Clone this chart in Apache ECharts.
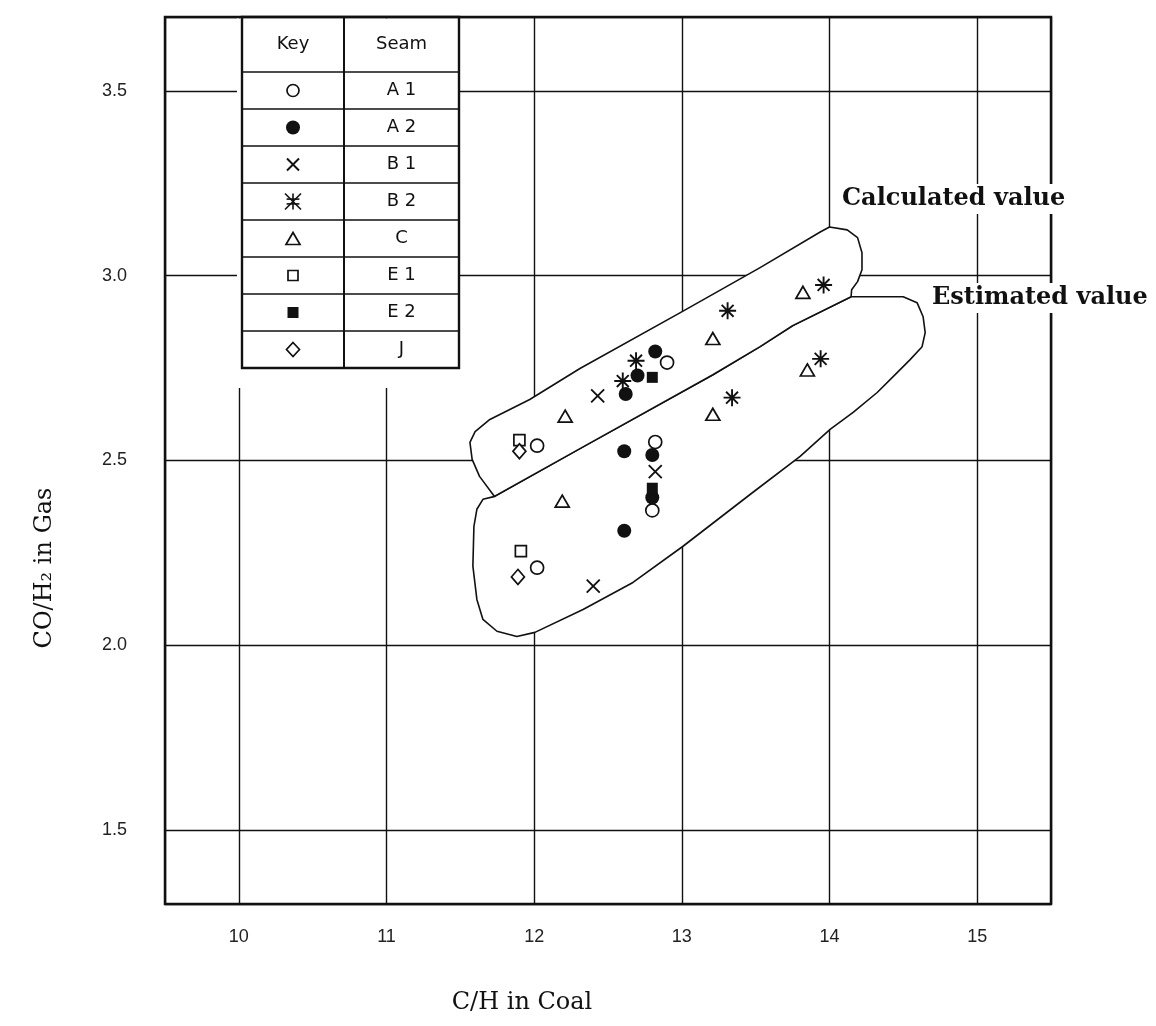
<!DOCTYPE html>
<html>
<head>
<meta charset="utf-8">
<title>CO/H2 in Gas vs C/H in Coal</title>
<style>
  html, body { margin: 0; padding: 0; background: #fff; }
  #chart { width: 1156px; height: 1026px; }
</style>
<script src="https://cdn.jsdelivr.net/npm/echarts@6/dist/echarts.min.js"></script>
</head>
<body>
<div id="chart"></div>
<script>
// ---- Seams listed in the key ----
const seamNames = ['A 1', 'A 2', 'B 1', 'B 2', 'C', 'E 1', 'E 2', 'J'];

// ---- Measurements: C/H in coal (x) and CO/H2 in gas (y) per seam ----
const a1X = [12.02, 12.90, 12.82, 12.80, 12.02];
const a1Y = [2.54, 2.765, 2.55, 2.365, 2.21];
const a2X = [12.62, 12.70, 12.82, 12.61, 12.80, 12.80, 12.61];
const a2Y = [2.68, 2.73, 2.795, 2.525, 2.515, 2.40, 2.31];
const b1X = [12.43, 12.82, 12.40];
const b1Y = [2.675, 2.47, 2.16];
const b2X = [12.60, 12.69, 13.31, 13.96, 13.34, 13.94];
const b2Y = [2.715, 2.77, 2.905, 2.975, 2.67, 2.775];
const cX = [12.21, 13.21, 13.82, 12.19, 13.21, 13.85];
const cY = [2.62, 2.83, 2.955, 2.39, 2.625, 2.745];
const e1X = [11.90, 11.91];
const e1Y = [2.555, 2.255];
const e2X = [12.80, 12.80];
const e2Y = [2.725, 2.425];
const jX = [11.90, 11.89];
const jY = [2.525, 2.185];

// ---- Outline of the "calculated value" band (data units) ----
const calcBandX = [11.565, 11.60, 11.70, 11.97, 12.31, 12.99, 13.53, 13.94, 14.00, 14.12, 14.19, 14.22, 14.22, 14.19, 14.15, 14.146, 13.75, 13.53, 13.21, 12.31, 11.73, 11.63, 11.58];
const calcBandY = [2.549, 2.578, 2.611, 2.665, 2.749, 2.900, 3.022, 3.119, 3.132, 3.124, 3.103, 3.062, 3.016, 2.984, 2.962, 2.943, 2.865, 2.808, 2.732, 2.532, 2.403, 2.457, 2.503];

// ---- Outline of the "estimated value" band (data units) ----
const estBandX = [11.734, 11.653, 11.612, 11.592, 11.585, 11.612, 11.653, 11.748, 11.883, 12.005, 12.331, 12.669, 13.008, 13.462, 13.801, 14.004, 14.160, 14.323, 14.431, 14.546, 14.627, 14.648, 14.634, 14.593, 14.499, 14.207, 14.146, 13.753, 13.530, 13.211, 12.310];
const estBandY = [2.403, 2.395, 2.368, 2.322, 2.214, 2.124, 2.070, 2.038, 2.024, 2.035, 2.097, 2.170, 2.268, 2.408, 2.511, 2.584, 2.630, 2.684, 2.727, 2.773, 2.808, 2.846, 2.889, 2.927, 2.943, 2.943, 2.943, 2.865, 2.808, 2.732, 2.532];

// ---- Tick labels ----
const xTickValues = [10, 11, 12, 13, 14, 15];
const xTickLabels = ['10', '11', '12', '13', '14', '15'];
const yTickValues = [1.5, 2.0, 2.5, 3.0, 3.5];
const yTickLabels = ['1.5', '2.0', '2.5', '3.0', '3.5'];

// ---- Band captions ----
const bandCaptions = ['Calculated value', 'Estimated value'];

const zip = (xs, ys) => xs.map((x, i) => [x, ys[i]]);
const bands = [
  { x: estBandX, y: estBandY },
  { x: calcBandX, y: calcBandY }
];

const INK = '#111';
const PATH_X = 'path://M0,0L10,10M10,0L0,10';
const PATH_STAR = 'path://M5,0L5,10M0,5L10,5M1.5,1.5L8.5,8.5M1.5,8.5L8.5,1.5';

// Marker style for each seam
const seamStyles = [
  { symbol: 'circle', size: 13, fill: '#fff', lw: 1.7 },
  { symbol: 'circle', size: 14, fill: INK, lw: 0 },
  { symbol: PATH_X, size: 13, fill: 'rgba(0,0,0,0)', lw: 1.9 },
  { symbol: PATH_STAR, size: 17, fill: 'rgba(0,0,0,0)', lw: 1.9 },
  { symbol: 'triangle', size: [14, 12], fill: '#fff', lw: 1.7 },
  { symbol: 'rect', size: 11, fill: '#fff', lw: 1.7 },
  { symbol: 'rect', size: 11, fill: INK, lw: 0 },
  { symbol: 'diamond', size: [13, 15], fill: '#fff', lw: 1.7 }
];
const seamData = [
  zip(a1X, a1Y), zip(a2X, a2Y), zip(b1X, b1Y), zip(b2X, b2Y),
  zip(cX, cY), zip(e1X, e1Y), zip(e2X, e2Y), zip(jX, jY)
];

const scatterSeries = seamNames.map((name, i) => ({
  name: name,
  type: 'scatter',
  z: 5,
  silent: true,
  symbol: seamStyles[i].symbol,
  symbolSize: seamStyles[i].size,
  itemStyle: {
    color: seamStyles[i].fill,
    borderColor: INK,
    borderWidth: seamStyles[i].lw,
    opacity: 1
  },
  data: seamData[i]
}));

const bandSeries = {
  type: 'custom',
  coordinateSystem: 'cartesian2d',
  silent: true,
  clip: false,
  z: 3,
  data: bands.map(b => [b.x[0], b.y[0]]),
  renderItem: function (params, api) {
    const b = bands[params.dataIndex];
    const pts = b.x.map((x, k) => api.coord([x, b.y[k]]));
    return {
      type: 'polygon',
      shape: { points: pts },
      style: { fill: '#fff', stroke: INK, lineWidth: 1.6, lineJoin: 'round' }
    };
  }
};

// ---- Key table (drawn in the upper-left corner of the plot) ----
const tbl = { left: 242, mid: 344, right: 459, top: 17, head: 72, row: 37 };
const keyFont = '18px "DejaVu Sans", sans-serif';
const keyElements = [];
const tblBottom = tbl.head + tbl.row * seamNames.length;
// white ground behind the table, plus a clear strip just below it
keyElements.push({
  type: 'rect', shape: { x: tbl.left - 5, y: tbl.top + 1.5, width: tbl.right - tbl.left + 5, height: tblBottom - tbl.top },
  style: { fill: '#fff' }, z: 100
});
keyElements.push({
  type: 'rect', shape: { x: tbl.left - 6, y: tblBottom, width: tbl.right - tbl.left + 12, height: 20 },
  style: { fill: '#fff' }, z: 100
});
keyElements.push({
  type: 'rect',
  shape: { x: tbl.left, y: tbl.top, width: tbl.right - tbl.left, height: tblBottom - tbl.top },
  style: { fill: 'none', stroke: INK, lineWidth: 2.4 }, z: 101
});
keyElements.push({
  type: 'line', shape: { x1: tbl.mid, y1: tbl.top, x2: tbl.mid, y2: tblBottom },
  style: { stroke: INK, lineWidth: 2 }, z: 101
});
for (let r = 0; r < seamNames.length; r++) {
  const y = tbl.head + tbl.row * r;
  keyElements.push({
    type: 'line', shape: { x1: tbl.left, y1: y, x2: tbl.right, y2: y },
    style: { stroke: INK, lineWidth: 1.4 }, z: 101
  });
}
const keyCx = (tbl.left + tbl.mid) / 2;
const seamCx = (tbl.mid + tbl.right) / 2;
keyElements.push({ type: 'text', x: keyCx, y: (tbl.top + tbl.head) / 2, z: 102,
  style: { text: 'Key', font: keyFont, fill: INK, align: 'center', verticalAlign: 'middle' } });
keyElements.push({ type: 'text', x: seamCx, y: (tbl.top + tbl.head) / 2, z: 102,
  style: { text: 'Seam', font: keyFont, fill: INK, align: 'center', verticalAlign: 'middle' } });

// Stroked segments (in a 10x10 box) scaled around a centre, as a group of lines
function strokeGroup(segs, cx, cy, size, lw) {
  const k = size / 10;
  return {
    type: 'group',
    children: segs.map(s => ({
      type: 'line', z: 102,
      shape: { x1: cx + (s[0] - 5) * k, y1: cy + (s[1] - 5) * k, x2: cx + (s[2] - 5) * k, y2: cy + (s[3] - 5) * k },
      style: { stroke: INK, lineWidth: lw }
    }))
  };
}
function keySymbol(i, cx, cy) {
  const s = { stroke: INK, lineWidth: 1.7 };
  switch (i) {
    case 0: return { type: 'circle', shape: { cx, cy, r: 6 }, style: Object.assign({ fill: '#fff' }, s) };
    case 1: return { type: 'circle', shape: { cx, cy, r: 7 }, style: { fill: INK } };
    case 2: return strokeGroup([[0, 0, 10, 10], [10, 0, 0, 10]], cx, cy, 12, 1.9);
    case 3: return strokeGroup([[0, 0, 10, 10], [10, 0, 0, 10], [1, 3.5, 9, 3.5], [1, 6.5, 9, 6.5], [5, 0, 5, 10]], cx, cy, 16, 1.6);
    case 4: return { type: 'polygon', shape: { points: [[cx, cy - 6], [cx + 7, cy + 6], [cx - 7, cy + 6]] }, style: Object.assign({ fill: '#fff' }, s) };
    case 5: return { type: 'rect', shape: { x: cx - 5, y: cy - 5, width: 10, height: 10 }, style: Object.assign({ fill: '#fff' }, s) };
    case 6: return { type: 'rect', shape: { x: cx - 5.5, y: cy - 5.5, width: 11, height: 11 }, style: { fill: INK } };
    default: return { type: 'polygon', shape: { points: [[cx, cy - 7], [cx + 6.5, cy], [cx, cy + 7], [cx - 6.5, cy]] }, style: Object.assign({ fill: '#fff' }, s) };
  }
}
seamNames.forEach((name, i) => {
  const cy = tbl.head + tbl.row * i + tbl.row / 2;
  const sym = keySymbol(i, keyCx, cy);
  sym.z = 102;
  keyElements.push(sym);
  keyElements.push({ type: 'text', x: seamCx, y: cy, z: 102,
    style: { text: name, font: keyFont, fill: INK, align: 'center', verticalAlign: 'middle' } });
});

// ---- Band captions and axis titles ----
const captionFont = 'bold 24px "DejaVu Serif", serif';
const titleFont = '24px "DejaVu Serif", serif';
const captionElements = [
  { type: 'text', x: 840, y: 199, z: 103,
    style: { text: bandCaptions[0], font: captionFont, fill: INK, align: 'left', verticalAlign: 'middle',
             backgroundColor: '#fff', padding: [3, 2, 3, 2] } },
  { type: 'text', x: 930, y: 298, z: 103,
    style: { text: bandCaptions[1], font: captionFont, fill: INK, align: 'left', verticalAlign: 'middle',
             backgroundColor: '#fff', padding: [3, 2, 3, 2] } },
  { type: 'text', x: 522, y: 1003, z: 103,
    style: { text: 'C/H in Coal', font: titleFont, fill: INK, align: 'center', verticalAlign: 'middle' } },
  { type: 'text', x: 45, y: 568, rotation: Math.PI / 2, z: 103,
    style: { text: 'CO/H\u2082 in Gas', font: titleFont, fill: INK, align: 'center', verticalAlign: 'middle' } }
];

const tickFont = { fontFamily: '"Liberation Sans", sans-serif', fontSize: 18, color: '#222' };

const option = {
  animation: false,
  backgroundColor: '#fff',
  grid: {
    left: 165, right: 105, top: 17, bottom: 122,
    show: true, borderColor: INK, borderWidth: 2.5, backgroundColor: 'transparent'
  },
  xAxis: {
    type: 'value', min: 9.5, max: 15.5, splitNumber: 6,
    axisLine: { show: false }, axisTick: { show: false },
    axisLabel: Object.assign({
      margin: 24, showMinLabel: false, showMaxLabel: false,
      formatter: v => {
        const k = xTickValues.indexOf(Math.round(v * 10) / 10);
        return k >= 0 ? xTickLabels[k] : '';
      }
    }, tickFont),
    splitLine: { show: true, lineStyle: { color: INK, width: 1.4 } }
  },
  yAxis: {
    type: 'value', min: 1.3, max: 3.7, splitNumber: 5,
    axisLine: { show: false }, axisTick: { show: false },
    axisLabel: Object.assign({
      margin: 38, showMinLabel: false, showMaxLabel: false,
      formatter: v => {
        const k = yTickValues.indexOf(Math.round(v * 10) / 10);
        return k >= 0 ? yTickLabels[k] : '';
      }
    }, tickFont),
    splitLine: { show: true, lineStyle: { color: INK, width: 1.4 } }
  },
  graphic: { elements: keyElements.concat(captionElements) },
  series: [bandSeries].concat(scatterSeries)
};

const myChart = echarts.init(document.getElementById('chart'), null, { renderer: 'canvas' });
myChart.setOption(option);
</script>
</body>
</html>
